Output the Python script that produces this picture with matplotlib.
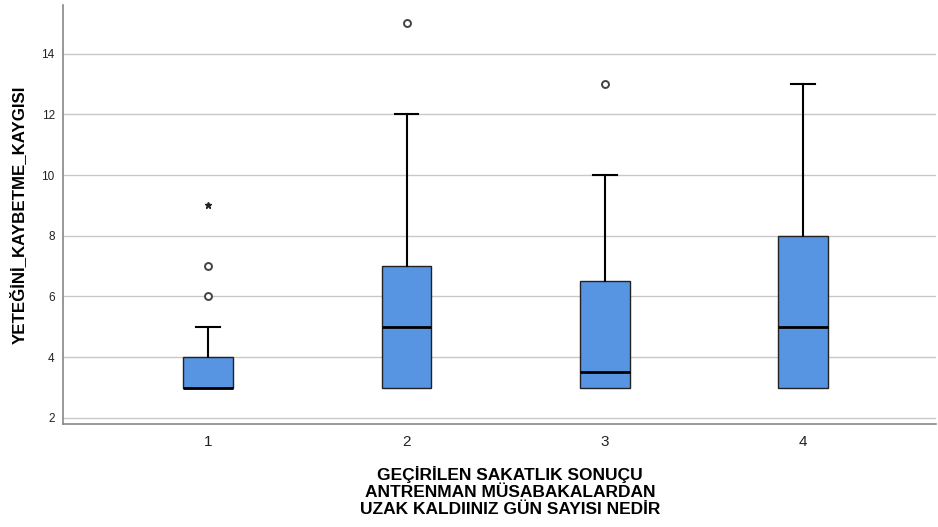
import numpy as np
import matplotlib.pyplot as plt

plt.rcParams['font.family'] = ['Liberation Sans', 'DejaVu Sans']

# data
groups = ['1', '2', '3', '4']
q1 = [3, 3, 3, 3]
med = [3, 5, 3.5, 5]
q3 = [4, 7, 6.5, 8]
whis_lo = [3, 3, 3, 3]
whis_hi = [5, 12, 10, 13]
outliers = [[6, 7], [15], [13], []]
extremes = [[9], [], [], []]

box_color = '#5795e3'

stats = []
for i in range(len(groups)):
    stats.append({'label': groups[i], 'q1': q1[i], 'med': med[i], 'q3': q3[i],
                  'whislo': whis_lo[i], 'whishi': whis_hi[i], 'fliers': outliers[i]})

fig = plt.figure(figsize=(9.38, 5.27), dpi=100)
ax = fig.add_axes([0.0672, 0.1954, 0.9308, 0.7951])

pos = np.arange(1, len(groups) + 1)
bp = ax.bxp(stats, positions=pos, widths=0.25, patch_artist=True, showcaps=True,
            boxprops=dict(facecolor=box_color, edgecolor='#222222', linewidth=1),
            medianprops=dict(color='black', linewidth=2),
            whiskerprops=dict(color='black', linewidth=1.5),
            capprops=dict(color='black', linewidth=1.5),
            flierprops=dict(marker='o', markersize=5, markerfacecolor='white',
                            markeredgecolor='#444444', markeredgewidth=1.4),
            capwidths=0.12)
# no lower whisker/cap: minimum equals Q1
for i, cap in enumerate(bp['caps']):
    if i % 2 == 0:
        cap.set_visible(False)

# extreme values drawn as stars
for p, ex in zip(pos, extremes):
    if ex:
        ax.plot([p] * len(ex), ex, linestyle='none', marker='*', markersize=5,
                color='#222222')

ax.set_xlim(0.268, 4.67)
ax.set_ylim(1.8, 15.6)
ax.set_yticks([2, 4, 6, 8, 10, 12, 14])
ax.yaxis.grid(True, color='#c8c8c8', linewidth=1)
ax.set_axisbelow(True)
for s in ['top', 'right']:
    ax.spines[s].set_visible(False)
for s in ['left', 'bottom']:
    ax.spines[s].set_color('#888888')
    ax.spines[s].set_linewidth(1.2)
ax.tick_params(axis='both', length=0)
ax.tick_params(axis='y', labelsize=8.5, pad=6, labelcolor='#222222')
ax.tick_params(axis='x', labelsize=11, pad=8, labelcolor='#222222')

ax.set_ylabel('YETEĞİNİ_KAYBETME_KAYGISI', fontsize=12.2, fontweight='bold')
ax.yaxis.set_label_coords(-0.042, 0.5, transform=ax.transAxes)
ax.set_xlabel('GEÇİRİLEN SAKATLIK SONUÇU\nANTRENMAN MÜSABAKALARDAN\nUZAK KALDIINIZ GÜN SAYISI NEDİR',
              fontsize=12.5, fontweight='bold', linespacing=1.15)
ax.xaxis.set_label_coords(0.512, -0.1, transform=ax.transAxes)
ax.xaxis.label.set_verticalalignment('top')

fig.savefig('out.png', dpi=100)
